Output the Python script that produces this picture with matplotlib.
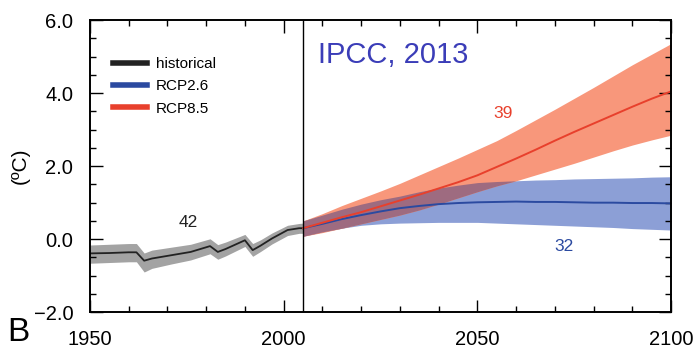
import numpy as np
import matplotlib
matplotlib.use('Agg')
import matplotlib.pyplot as plt
from matplotlib.ticker import MultipleLocator

plt.rcParams['font.family'] = ['Liberation Sans', 'DejaVu Sans']

# historical multi-model mean and range
hist_years = [1950, 1955, 1960, 1962, 1964, 1966, 1971, 1976, 1981, 1983, 1985,
              1990, 1992, 1994, 1997, 2001, 2004, 2005]
hist_mean = [-0.39, -0.38, -0.36, -0.36, -0.59, -0.53, -0.44, -0.35, -0.19, -0.35, -0.27,
             -0.03, -0.30, -0.18, 0.02, 0.25, 0.30, 0.30]
hist_low = [-0.66, -0.64, -0.62, -0.62, -0.90, -0.80, -0.68, -0.57, -0.40, -0.55, -0.46,
            -0.20, -0.47, -0.34, -0.13, 0.10, 0.16, 0.16]
hist_high = [-0.16, -0.14, -0.12, -0.12, -0.38, -0.30, -0.22, -0.14, 0.01, -0.15, -0.08,
             0.13, -0.12, -0.02, 0.17, 0.38, 0.43, 0.44]

# projections, every 5 years
proj_years = [2005, 2010, 2015, 2020, 2025, 2030, 2035, 2040, 2045, 2050,
              2055, 2060, 2065, 2070, 2075, 2080, 2085, 2090, 2095, 2100]
rcp85_mean = [0.30, 0.45, 0.60, 0.74, 0.90, 1.06, 1.22, 1.39, 1.56, 1.75,
              1.98, 2.21, 2.45, 2.70, 2.94, 3.17, 3.40, 3.63, 3.85, 4.05]
rcp85_low = [0.08, 0.18, 0.30, 0.42, 0.54, 0.66, 0.80, 0.96, 1.13, 1.30,
             1.46, 1.60, 1.76, 1.92, 2.08, 2.25, 2.42, 2.58, 2.72, 2.85]
rcp85_high = [0.50, 0.70, 0.92, 1.12, 1.32, 1.53, 1.76, 1.99, 2.22, 2.46,
              2.70, 2.98, 3.27, 3.56, 3.86, 4.16, 4.47, 4.78, 5.07, 5.36]
rcp26_mean = [0.30, 0.42, 0.55, 0.66, 0.76, 0.85, 0.91, 0.96, 0.99, 1.01,
              1.02, 1.03, 1.02, 1.02, 1.01, 1.00, 1.00, 0.99, 0.99, 0.98]
rcp26_low = [0.08, 0.20, 0.30, 0.38, 0.42, 0.44, 0.45, 0.46, 0.46, 0.46,
             0.44, 0.42, 0.40, 0.38, 0.36, 0.34, 0.32, 0.29, 0.27, 0.25]
rcp26_high = [0.50, 0.66, 0.82, 0.96, 1.08, 1.18, 1.30, 1.40, 1.48, 1.55,
              1.58, 1.60, 1.62, 1.63, 1.65, 1.66, 1.67, 1.68, 1.70, 1.71]

n_models = {'hist': '42', 'rcp26': '32', 'rcp85': '39'}

fig = plt.figure(figsize=(6.97, 3.48), dpi=100)
ax = fig.add_axes([0.129, 0.103, 0.834, 0.839])

# bands
ax.fill_between(hist_years, hist_low, hist_high, color='#a3a3a3', lw=0)
ax.fill_between(proj_years, rcp26_low, rcp26_high, color='#8c9fd6', lw=0)
ax.fill_between(proj_years, rcp85_low, rcp85_high, color='#f8977b', lw=0)
ov_low = np.maximum(rcp26_low, rcp85_low)
ov_high = np.minimum(rcp26_high, rcp85_high)
ax.fill_between(proj_years, ov_low, ov_high, where=ov_high > ov_low,
                interpolate=True, color='#9e6b80', lw=0)

# means
ax.plot(hist_years, hist_mean, color='#222222', lw=1.3, label='historical')
ax.plot(proj_years, rcp26_mean, color='#2b4aa0', lw=1.4, label='RCP2.6')
ax.plot(proj_years, rcp85_mean, color='#e8402c', lw=1.4, label='RCP8.5')

ax.axvline(2005, color='black', lw=1.0)

ax.text(1975.3, 0.47, n_models['hist'], color='#222222', fontsize=12.5, ha='center', va='center')
ax.text(2056.5, 3.44, n_models['rcp85'], color='#e8402c', fontsize=12.5, ha='center', va='center')
ax.text(2072.4, -0.21, n_models['rcp26'], color='#2b4aa0', fontsize=12.5, ha='center', va='center')

ax.text(2008.8, 5.05, 'IPCC, 2013', color='#3b3db8', fontsize=21, ha='left', va='center')

ax.set_xlim(1950, 2100)
ax.set_ylim(-2, 6)
ax.set_xticks([1950, 2000, 2050, 2100])
ax.set_yticks([-2, 0, 2, 4, 6])
ax.set_yticklabels(['\u22122.0', '0.0', '2.0', '4.0', '6.0'])
ax.xaxis.set_minor_locator(MultipleLocator(10))
ax.yaxis.set_minor_locator(MultipleLocator(0.5))
ax.tick_params(which='both', direction='in', top=True, right=True, labelsize=14.5, width=1.0)
ax.tick_params(which='major', length=9)
ax.tick_params(which='minor', length=4.5)
ax.tick_params(axis='x', pad=13)
ax.tick_params(axis='y', pad=12)
for s in ax.spines.values():
    s.set_linewidth(1.4)

ax.set_ylabel('(ºC)', fontsize=15, labelpad=3)

leg = ax.legend(loc='upper left', bbox_to_anchor=(0.03, 0.895), frameon=False, fontsize=11,
                handlelength=2.2, handletextpad=0.6, labelspacing=0.55, borderaxespad=0)
for line in leg.get_lines():
    line.set_linewidth(4)

fig.text(0.01, 0.0, 'B', fontsize=24, ha='left', va='bottom')

fig.savefig('out.png', dpi=100)
